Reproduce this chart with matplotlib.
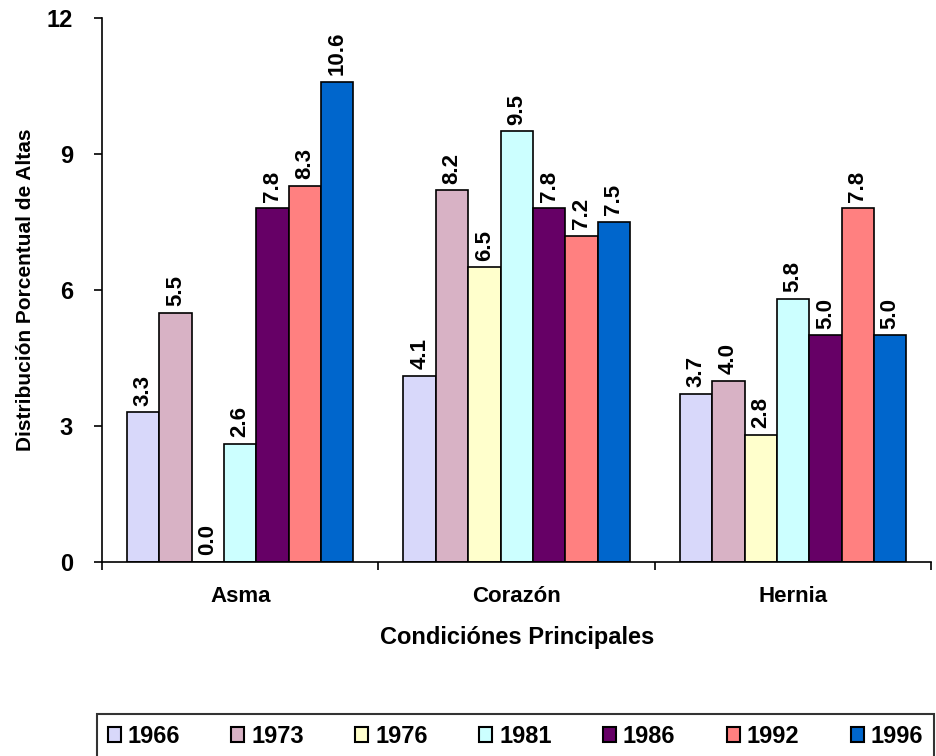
import numpy as np
import matplotlib
matplotlib.use("Agg")
import matplotlib.pyplot as plt

plt.rcParams['font.family'] = ['Liberation Sans', 'DejaVu Sans']
plt.rcParams['font.weight'] = 'bold'

conditions = ["Asma", "Corazón", "Hernia"]
years = ["1966", "1973", "1976", "1981", "1986", "1992", "1996"]
v1966 = [3.3, 4.1, 3.7]
v1973 = [5.5, 8.2, 4.0]
v1976 = [0.0, 6.5, 2.8]
v1981 = [2.6, 9.5, 5.8]
v1986 = [7.8, 7.8, 5.0]
v1992 = [8.3, 7.2, 7.8]
v1996 = [10.6, 7.5, 5.0]
series = [v1966, v1973, v1976, v1981, v1986, v1992, v1996]
colors = ["#D8D8FA", "#D8B2C5", "#FFFFCC", "#CCFFFF", "#660066", "#FF8080", "#0066CC"]

fig = plt.figure(figsize=(9.36, 7.56), dpi=100)
ax = fig.add_axes([0.109, 0.2566, 0.886, 0.7195])

x = np.arange(len(conditions))
w = 0.117
for i, (vals, c, yr) in enumerate(zip(series, colors, years)):
    pos = x + (i - 3) * w
    ax.bar(pos, vals, w, color=c, edgecolor='black', linewidth=1.2, label=yr)
    for p, v in zip(pos, vals):
        ax.text(p, v + 0.15, f"{v:.1f}", rotation=90, ha='center', va='bottom',
                fontsize=16, fontweight='bold')

ax.set_xlim(-0.5, 2.5)
ax.set_ylim(0, 12)
ax.set_yticks([0, 3, 6, 9, 12])
ax.set_xticks(x)
ax.set_xticklabels(conditions, fontsize=16, fontweight='bold')
ax.set_xticks([-0.5, 0.5, 1.5, 2.5], minor=True)
ax.tick_params(axis='x', which='major', length=0, pad=17)
ax.tick_params(axis='x', which='minor', length=6, width=1.2, direction='out')
ax.tick_params(axis='y', length=6, width=1.2, direction='out', labelsize=17, pad=15)
for t in ax.get_yticklabels():
    t.set_fontweight('bold')
ax.spines['top'].set_visible(False)
ax.spines['right'].set_visible(False)
ax.spines['left'].set_linewidth(1.2)
ax.spines['bottom'].set_linewidth(1.2)
ax.set_xlabel("Condiciónes Principales", fontsize=17, fontweight='bold', labelpad=14)
ax.set_ylabel("Distribución Porcentual de Altas", fontsize=15, fontweight='bold', labelpad=8)

leg = fig.legend(loc='upper left', bbox_to_anchor=(0.1036, -0.05, 0.894, 0.1056), mode='expand',
                 ncol=7, frameon=True, fancybox=False, edgecolor='black',
                 handlelength=0.55, handleheight=0.6, handletextpad=0.3,
                 prop={'size': 17, 'weight': 'bold'}, borderaxespad=0, borderpad=0.45)
leg.get_frame().set_linewidth(1.5)
for h in leg.legend_handles:
    h.set_edgecolor('black')
    h.set_linewidth(1.5)

fig.savefig("out.png", dpi=100)
